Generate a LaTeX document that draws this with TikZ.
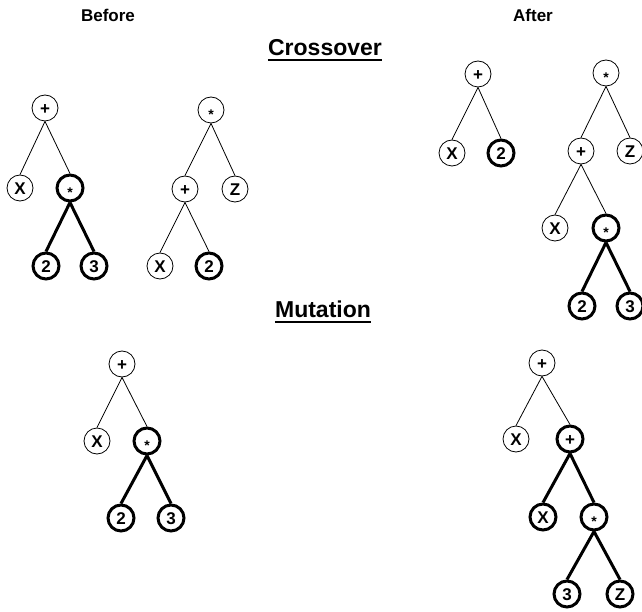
\documentclass[tikz,border=0pt]{standalone}
\usepackage{fontspec}
\setmainfont{Liberation Sans}
\begin{document}
\begin{tikzpicture}[x=1pt,y=-1pt,
  vtx/.style={circle, draw, line width=0.8pt, minimum size=26pt, inner sep=0pt,
    font=\fontsize{17}{17}\selectfont\bfseries, text height=12.2pt, text depth=0pt},
  hvy/.style={vtx, line width=3pt},
  thinlink/.style={line width=0.8pt},
  boldlink/.style={line width=3pt},
  heading/.style={font=\fontsize{17}{17}\selectfont\bfseries, inner sep=0pt, anchor=base},
  title/.style={font=\fontsize{23}{23}\selectfont\bfseries, inner sep=0pt, anchor=base}]
\newcommand{\st}{\raisebox{-3.6pt}{\fontsize{14}{14}\selectfont *}}
\useasboundingbox (0,0) rectangle (642,612);

% column headings and section titles
\node[heading] (before) at (108,22) {Before};
\node[heading] (after) at (533,22) {After};
\node[title] (cross) at (325,56) {Crossover};
\node[title] (mut) at (323,317) {Mutation};
\draw[line width=2pt] ([yshift=-4.5pt]cross.base west) -- ([yshift=-4.5pt]cross.base east);
\draw[line width=2pt] ([yshift=-4.5pt]mut.base west) -- ([yshift=-4.5pt]mut.base east);

% crossover, first parent: x + 2*3
\node[vtx] (a1) at (45,108) {+};
\node[vtx] (a2) at (20,188) {X};
\node[hvy] (a3) at (70,188) {\st};
\node[hvy] (a4) at (46,266) {2};
\node[hvy] (a5) at (94,266) {3};
\draw[thinlink] (a1.south) -- (a2.north);
\draw[thinlink] (a1.south) -- (a3.north);
\draw[boldlink] (a3.south) -- (a4.north);
\draw[boldlink] (a3.south) -- (a5.north);

% crossover, second parent: (x + 2) * z
\node[vtx] (b1) at (211,110) {\st};
\node[vtx] (b2) at (185,189) {+};
\node[vtx] (b3) at (235,189) {Z};
\node[vtx] (b4) at (160,266) {X};
\node[hvy] (b5) at (209,266) {2};
\draw[thinlink] (b1.south) -- (b2.north);
\draw[thinlink] (b1.south) -- (b3.north);
\draw[thinlink] (b2.south) -- (b4.north);
\draw[thinlink] (b2.south) -- (b5.north);

% crossover, first offspring: x + 2
\node[vtx] (c1) at (478,74) {+};
\node[vtx] (c2) at (452,153) {X};
\node[hvy] (c3) at (501,153) {2};
\draw[thinlink] (c1.south) -- (c2.north);
\draw[thinlink] (c1.south) -- (c3.north);

% crossover, second offspring: (x + 2*3) * z
\node[vtx] (d1) at (606,73) {\st};
\node[vtx] (d2) at (581,151) {+};
\node[vtx] (d3) at (630,151) {Z};
\node[vtx] (d4) at (555,228) {X};
\node[hvy] (d5) at (606,228) {\st};
\node[hvy] (d6) at (582,306) {2};
\node[hvy] (d7) at (630,306) {3};
\draw[thinlink] (d1.south) -- (d2.north);
\draw[thinlink] (d1.south) -- (d3.north);
\draw[thinlink] (d2.south) -- (d4.north);
\draw[thinlink] (d2.south) -- (d5.north);
\draw[boldlink] (d5.south) -- (d6.north);
\draw[boldlink] (d5.south) -- (d7.north);

% mutation, before
\node[vtx] (e1) at (122,364) {+};
\node[vtx] (e2) at (97,441) {X};
\node[hvy] (e3) at (147,441) {\st};
\node[hvy] (e4) at (121,518) {2};
\node[hvy] (e5) at (171,518) {3};
\draw[thinlink] (e1.south) -- (e2.north);
\draw[thinlink] (e1.south) -- (e3.north);
\draw[boldlink] (e3.south) -- (e4.north);
\draw[boldlink] (e3.south) -- (e5.north);

% mutation, after
\node[vtx] (f1) at (542,363) {+};
\node[vtx] (f2) at (516,439) {X};
\node[hvy] (f3) at (570,439) {+};
\node[hvy] (f4) at (543,517) {X};
\node[hvy] (f5) at (594,517) {\st};
\node[hvy] (f6) at (567,594) {3};
\node[hvy] (f7) at (620,594) {Z};
\draw[thinlink] (f1.south) -- (f2.north);
\draw[thinlink] (f1.south) -- (f3.north);
\draw[boldlink] (f3.south) -- (f4.north);
\draw[boldlink] (f3.south) -- (f5.north);
\draw[boldlink] (f5.south) -- (f6.north);
\draw[boldlink] (f5.south) -- (f7.north);
\end{tikzpicture}
\end{document}
